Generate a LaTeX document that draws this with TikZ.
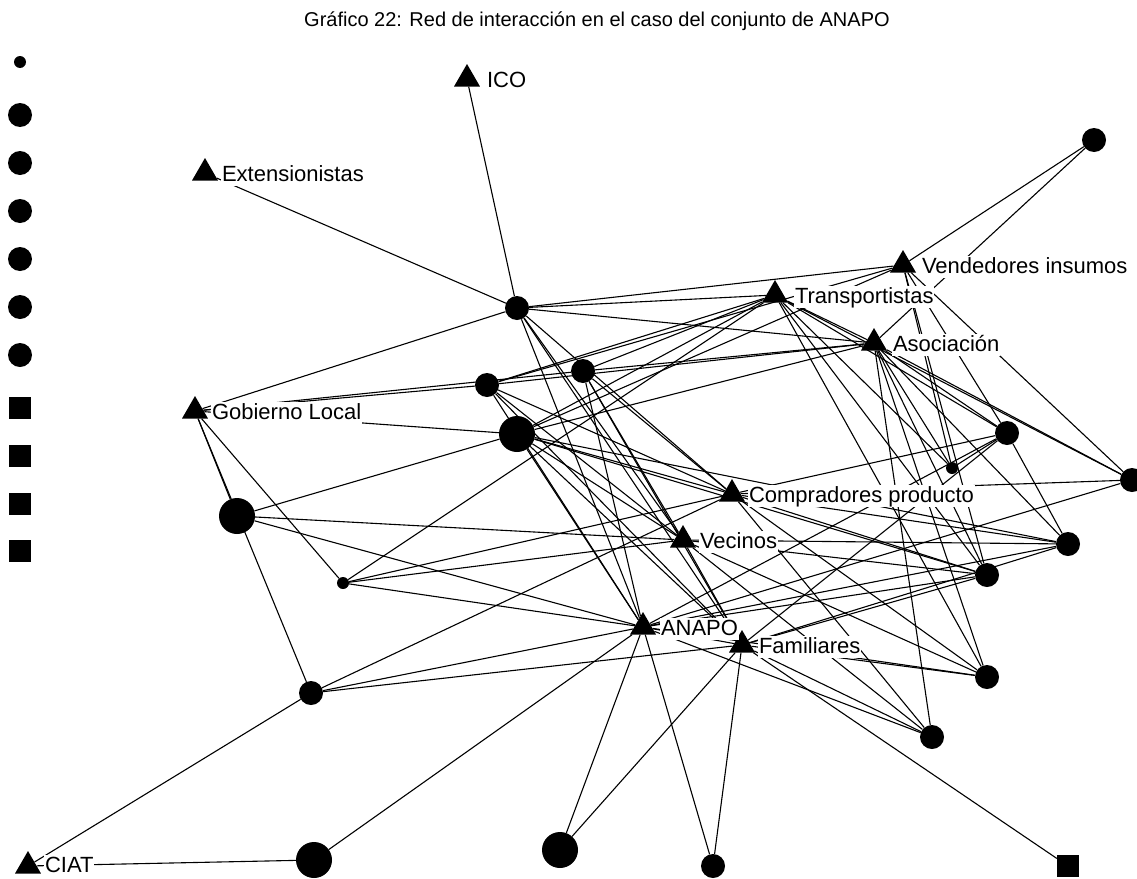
\documentclass[tikz,border=0pt]{standalone}
\usepackage{fontspec}
\setmainfont{Liberation Sans}
\usetikzlibrary{shapes.geometric}
\pgfdeclarelayer{bg}
\pgfsetlayers{bg,main}
\begin{document}
\begin{tikzpicture}[x=1pt,y=-1pt,
  tri/.style={regular polygon, regular polygon sides=3, fill=black, inner sep=0pt, minimum size=30pt},
  dot/.style={circle, fill=black, inner sep=0pt, minimum size=24pt},
  bigdot/.style={dot, minimum size=36pt},
  smalldot/.style={dot, minimum size=12pt},
  sqr/.style={rectangle, fill=black, inner sep=0pt, minimum size=22pt},
  lab/.style={anchor=base west, fill=white, inner sep=0.8pt, text height=16pt, text depth=4pt, font=\fontsize{22}{22}\selectfont},
  edge/.style={line width=1.1pt}
]
\useasboundingbox (0,0) rectangle (1137,878);
% title
\node[font=\fontsize{20}{20}\selectfont] (title) at (597,21) {Gráfico 22: Red de interacción en el caso del conjunto de ANAPO};
% isolates
\node[smalldot] (i1) at (20,62) {};
\node[dot] (i2) at (20,115) {};
\node[dot] (i3) at (20,163) {};
\node[dot] (i4) at (20,211) {};
\node[dot] (i5) at (20,259) {};
\node[dot] (i6) at (20,307) {};
\node[dot] (i7) at (20,355) {};
\node[sqr] (i8) at (20,408) {};
\node[sqr] (i9) at (20,456) {};
\node[sqr] (i10) at (20,504) {};
\node[sqr] (i11) at (20,551) {};
% actors (triangles)
\node[tri] (ICO) at (467,79) {};
\node[tri] (EXT) at (205,173) {};
\node[tri] (GOB) at (195,411) {};
\node[tri] (CIAT) at (28,866) {};
\node[tri] (VEN) at (903,265) {};
\node[tri] (TRA) at (775,295) {};
\node[tri] (ASO) at (874,343) {};
\node[tri] (COM) at (732,494) {};
\node[tri] (VEC) at (683,540) {};
\node[tri] (ANA) at (643,627) {};
\node[tri] (FAM) at (742,645) {};
% persons (circles)
\node[dot] (c1) at (517,308) {};
\node[dot] (c2) at (487,385) {};
\node[dot] (c3) at (583,371) {};
\node[bigdot] (c4) at (517,434) {};
\node[bigdot] (c5) at (237,516) {};
\node[smalldot] (c6) at (343,583) {};
\node[dot] (c7) at (311,693) {};
\node[dot] (c8) at (1094,140) {};
\node[dot] (c9) at (1007,433) {};
\node[smalldot] (c10) at (952,468) {};
\node[dot] (c11) at (1132,480) {};
\node[dot] (c12) at (1068,544) {};
\node[dot] (c13) at (987,575) {};
\node[dot] (c14) at (987,677) {};
\node[dot] (c15) at (932,737) {};
\node[bigdot] (c16) at (314,860) {};
\node[bigdot] (c17) at (560,850) {};
\node[dot] (c18) at (713,866) {};
\node[sqr] (sq) at (1068,866) {};
% edges
\begin{pgfonlayer}{bg}
\fill[white] (0,0) rectangle (1137,878);
\foreach \a/\b in {ICO/c1, EXT/c1, GOB/c1, GOB/c2, GOB/c3, GOB/c4, GOB/c5, GOB/c6, GOB/c7,
  CIAT/c7, CIAT/c16, c5/c4, c5/VEC, c5/ANA, c6/TRA, c6/COM, c6/VEC, c6/ANA,
  c7/COM, c7/ANA, c7/FAM, c16/ANA, c17/ANA, c17/FAM, c18/ANA, c18/FAM, sq/FAM,
  c8/VEN, c8/ASO,
  c1/TRA, c1/VEN, c1/ASO, c1/COM, c1/VEC, c1/ANA, c1/FAM,
  c2/TRA, c2/VEN, c2/ASO, c2/COM, c2/VEC, c2/ANA, c2/FAM,
  c3/TRA, c3/ASO, c3/COM, c3/VEC, c3/ANA, c3/FAM,
  c4/TRA, c4/VEN, c4/ASO, c4/COM, c4/VEC, c4/ANA, c4/FAM, c4/c12, c4/c13,
  TRA/ASO, ANA/FAM, VEC/FAM,
  c9/TRA, c9/VEN, c9/ASO, c9/COM, c9/ANA, c9/FAM, c9/c12,
  c10/VEN, c10/ASO, c10/TRA, c10/c9,
  c11/VEN, c11/ASO, c11/COM, c11/ANA, c11/TRA,
  c12/ASO, c12/COM, c12/VEC, c12/ANA, c12/FAM,
  c13/TRA, c13/VEN, c13/ASO, c13/COM, c13/VEC, c13/ANA, c13/FAM,
  c14/TRA, c14/ASO, c14/COM, c14/VEC, c14/ANA, c14/FAM,
  c15/ASO, c15/VEC, c15/ANA, c15/FAM, c15/COM}
  \draw[edge] (\a) -- (\b);
\end{pgfonlayer}
% labels
\node[lab] (ICOl) at (486,87) {ICO};
\node[lab] (EXTl) at (221,181) {Extensionistas};
\node[lab] (GOBl) at (211,419) {Gobierno Local};
\node[lab] (CIATl) at (44,872) {CIAT};
\node[lab] (VENl) at (921,273) {Vendedores insumos};
\node[lab] (TRAl) at (794,303) {Transportistas};
\node[lab] (ASOl) at (892,351) {Asociación};
\node[lab] (COMl) at (748,502) {Compradores producto};
\node[lab] (VECl) at (699,548) {Vecinos};
\node[lab] (ANAl) at (660,635) {ANAPO};
\node[lab] (FAMl) at (758,653) {Familiares};
\end{tikzpicture}
\end{document}
